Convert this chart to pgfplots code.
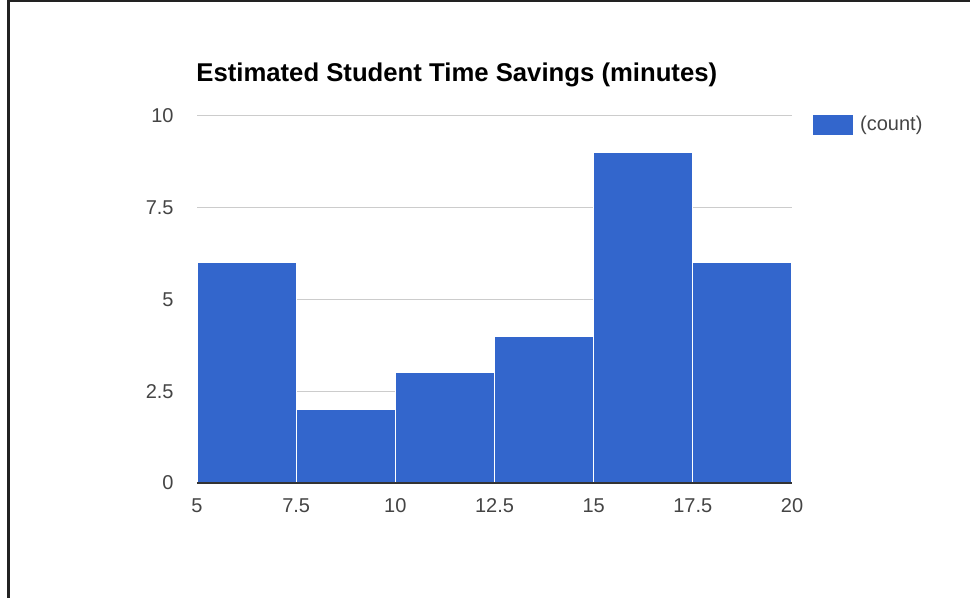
\documentclass[border=0pt]{standalone}
\usepackage{pgfplots}
\pgfplotsset{compat=1.18}
\usepackage{fontspec}
\setmainfont{Liberation Sans}
\definecolor{barblue}{HTML}{3366CC}
\definecolor{gridgray}{HTML}{CCCCCC}
\definecolor{labelgray}{HTML}{444444}
\definecolor{basegray}{HTML}{333333}
\definecolor{framegray}{HTML}{222222}
\begin{document}
\begin{tikzpicture}
\useasboundingbox (0,0) rectangle (485pt,299pt);
\draw[line width=1.2pt, framegray] (4.25pt,0) -- (4.25pt,298.6pt) -- (485pt,298.6pt);
\node[anchor=base west, inner sep=0pt, font=\fontsize{12.85pt}{14pt}\selectfont\bfseries, text=black] at (98pt,258pt) {Estimated Student Time Savings (minutes)};
\begin{axis}[
  at={(98.5pt,57.5pt)}, anchor=south west,
  scale only axis, width=297.5pt, height=183.5pt,
  xmin=5, xmax=20, ymin=0, ymax=10,
  xtick={5,7.5,10,12.5,15,17.5,20},
  ytick={0,2.5,5,7.5,10},
  axis line style={draw=none},
  major tick length=0pt,
  ymajorgrids, grid style={gridgray, line width=0.5pt},
  /pgf/number format/assume math mode=true,
  xticklabel style={font=\fontsize{10pt}{12pt}\selectfont, text=labelgray, inner sep=0pt, anchor=north, yshift=-7.5pt},
  yticklabel style={font=\fontsize{10pt}{12pt}\selectfont, text=labelgray, inner sep=0pt, anchor=east, xshift=-11.5pt},
  legend style={at={(axis description cs:1.0353,0.9755)}, anchor=west, draw=none, fill=none, inner sep=0pt, outer sep=0pt, nodes={inner sep=0pt, font=\fontsize{10pt}{12pt}\selectfont, text=labelgray}, column sep=3.5pt},
  legend cell align=left,
  clip=false,
]
\addplot[ybar interval, fill=barblue, draw=white, line width=0.6pt,
  legend image code/.code={\fill[barblue] (0pt,-4.75pt) rectangle (19.5pt,4.75pt);}]
  coordinates {(5,6) (7.5,2) (10,3) (12.5,4) (15,9) (17.5,6) (20,6)};
\addlegendentry{(count)}
\addplot[draw=basegray, line width=1pt, forget plot] coordinates {(5,0) (20,0)};
\end{axis}
\end{tikzpicture}
\end{document}
